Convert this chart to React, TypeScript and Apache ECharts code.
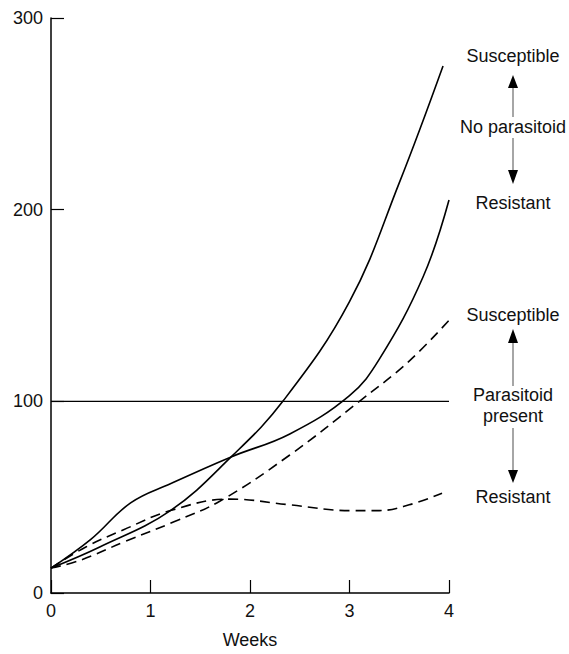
import React, { useEffect, useRef } from "react";
import * as echarts from "echarts";

const xTicks = [0, 1, 2, 3, 4];
const yTicks = [0, 100, 200, 300];

const susNoPar: [number, number][] = [
  [0, 13], [0.49, 24], [1.2, 43], [1.81, 71], [2.33, 100], [3.0, 152],
  [3.5, 214], [3.94, 275],
];
const resNoPar: [number, number][] = [
  [0, 13], [0.4, 28], [0.8, 47], [1.2, 57], [1.81, 71], [2.4, 83],
  [3.0, 103], [3.3, 122], [3.74, 165], [4.0, 205],
];
const susPar: [number, number][] = [
  [0, 13], [0.29, 17], [0.75, 27], [1.23, 37], [1.7, 48], [2.4, 72],
  [3.1, 100], [3.6, 121], [4.03, 144],
];
const resPar: [number, number][] = [
  [0, 13], [0.35, 24], [0.73, 33], [1.2, 43], [1.8, 49], [2.4, 46],
  [3.0, 43], [3.3, 43], [3.6, 46], [3.93, 52],
];
const refLine: [number, number][] = [[0, 100], [4, 100]];

const FONT = "Liberation Sans";
const TXT = "#111";
const FS = 18;

function arrow(x: number, tipY: number, baseY: number, shaftEndY: number) {
  return [
    {
      type: "line",
      shape: { x1: x, y1: baseY, x2: x, y2: shaftEndY },
      style: { stroke: "#888", lineWidth: 1.5 },
    },
    {
      type: "polygon",
      shape: { points: [[x, tipY], [x - 5, baseY], [x + 5, baseY]] },
      style: { fill: "#000" },
    },
  ];
}

function label(text: string, x: number, y: number) {
  return {
    type: "text",
    x,
    y,
    style: {
      text,
      fill: TXT,
      font: `${FS}px "${FONT}"`,
      textAlign: "center",
      textVerticalAlign: "middle",
    },
  };
}

export default function App() {
  const ref = useRef<HTMLDivElement>(null);
  useEffect(() => {
    const chart = echarts.init(ref.current!, undefined, { renderer: "svg" });
    const line = (data: [number, number][], dashed: boolean, w = 1.6) => ({
      type: "line",
      data,
      smooth: 0.4,
      showSymbol: false,
      clip: false,
      lineStyle: { color: "#000", width: w, type: dashed ? [10, 6] : "solid" },
    });
    chart.setOption({
      animation: false,
      backgroundColor: "#fff",
      grid: { left: 51, right: 120, top: 18, bottom: 55 },
      xAxis: {
        type: "value",
        min: xTicks[0],
        max: xTicks[xTicks.length - 1],
        interval: 1,
        name: "Weeks",
        nameLocation: "middle",
        nameGap: 38,
        nameTextStyle: { fontFamily: FONT, fontSize: FS, color: TXT },
        axisLine: { lineStyle: { color: "#000", width: 1.5 } },
        axisTick: { inside: true, length: 13, lineStyle: { color: "#000", width: 1.2 } },
        axisLabel: { fontFamily: FONT, fontSize: FS, color: TXT, margin: 9 },
        splitLine: { show: false },
      },
      yAxis: {
        type: "value",
        min: yTicks[0],
        max: yTicks[yTicks.length - 1],
        interval: 100,
        axisLine: { show: true, lineStyle: { color: "#000", width: 1.5 } },
        axisTick: { show: true, inside: true, length: 13, lineStyle: { color: "#000", width: 1.2 } },
        axisLabel: { fontFamily: FONT, fontSize: FS, color: TXT, margin: 8 },
        splitLine: { show: false },
      },
      series: [
        line(susNoPar, false),
        line(resNoPar, false),
        line(susPar, true),
        line(resPar, true),
        { ...line(refLine, false, 1.2), smooth: false },
      ],
      graphic: [
        label("Susceptible", 513, 56),
        ...arrow(513, 75, 88, 117),
        label("No parasitoid", 513, 127),
        ...arrow(513, 184, 170, 138),
        label("Resistant", 513, 203),
        label("Susceptible", 513, 315),
        ...arrow(513, 329, 343, 386),
        label("Parasitoid", 513, 395),
        label("present", 513, 416),
        ...arrow(513, 483, 470, 428),
        label("Resistant", 513, 497),
      ],
    });
    return () => chart.dispose();
  }, []);
  return <div ref={ref} style={{ width: 569, height: 654, position: "absolute", left: 0, top: 0 }} />;
}
